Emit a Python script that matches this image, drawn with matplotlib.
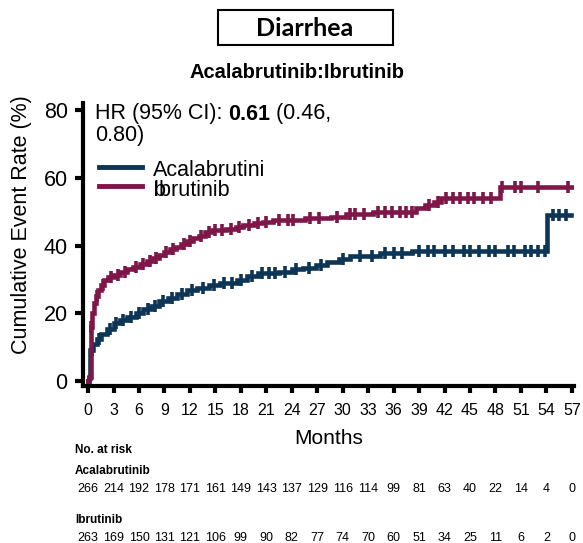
import numpy as np
import matplotlib
matplotlib.use('Agg')
import matplotlib.pyplot as plt
from matplotlib.patches import Rectangle

plt.rcParams['font.family'] = ['Liberation Sans', 'DejaVu Sans']

# Colours
BLUE = '#0d3556'
RED = '#7e1648'

# Kaplan-Meier style cumulative event curves (months, %)
acala_t = [0.0, 0.15, 0.25, 0.6, 1.0, 1.5, 2.2, 3.0, 3.8, 4.6, 5.6, 6.5, 7.4, 8.4,
           9.4, 10.5, 11.6, 12.8, 14.2, 15.6, 17.5, 18.7, 20.0, 22.5, 24.0, 25.3,
           26.8, 28.2, 29.6, 30.9, 34.4, 38.2, 54.1, 56.9]
acala_v = [0.0, 1.0, 9.0, 11.0, 12.5, 14.0, 15.5, 17.0, 18.0, 19.0, 20.0, 21.2, 22.3,
           23.5, 24.5, 25.7, 26.8, 27.5, 28.3, 29.0, 29.8, 31.0, 31.8, 32.3, 33.0,
           33.5, 34.3, 35.3, 36.2, 37.0, 37.8, 38.5, 49.0, 49.0]

ibru_t = [0.0, 0.15, 0.3, 0.5, 0.7, 0.9, 1.2, 1.5, 1.9, 2.4, 3.0, 3.8, 4.6, 5.3, 6.1,
          6.9, 7.6, 8.3, 8.9, 9.6, 10.3, 11.0, 11.7, 12.4, 13.1, 13.8, 14.6, 16.2,
          17.4, 18.3, 19.5, 20.6, 21.8, 25.5, 28.6, 30.4, 33.6, 38.6, 39.7, 40.8,
          41.6, 48.5, 57.4]
ibru_v = [0.0, 1.2, 16.0, 20.0, 23.0, 25.0, 27.0, 28.5, 29.8, 30.6, 31.4, 32.2, 33.0,
          33.8, 34.5, 35.5, 36.3, 37.2, 38.0, 38.9, 39.6, 40.4, 41.3, 42.2, 43.0,
          44.0, 44.5, 45.0, 45.6, 46.2, 46.7, 47.1, 47.6, 48.2, 48.6, 49.3, 50.0,
          51.0, 52.0, 53.0, 54.0, 57.5, 57.5]

# censor marks (months)
acala_cens = [0.5, 1.3, 2.6, 3.3, 4.1, 5.0, 6.0, 7.0, 7.9, 8.8, 9.9, 11.1, 12.2, 13.5,
              14.8, 16.0, 17.0, 18.0, 19.3, 20.5, 21.3, 22.0, 23.2, 24.5, 26.0, 27.5,
              30.0, 32.0, 33.5, 35.0, 36.0, 37.0, 39.0, 40.0, 40.8, 42.0, 43.0, 44.3,
              45.0, 46.0, 47.2, 48.0, 49.5, 50.2, 51.5, 52.2, 53.0, 53.8, 54.8, 55.5,
              56.3]
ibru_cens = [0.4, 1.0, 1.7, 2.7, 3.5, 4.3, 5.7, 6.5, 7.3, 8.0, 9.2, 10.0, 11.3, 12.0,
             13.3, 14.2, 15.0, 15.8, 16.8, 17.8, 19.0, 20.0, 21.0, 22.5, 23.5, 24.2,
             26.2, 27.2, 29.3, 30.8, 31.5, 32.5, 34.2, 35.0, 35.8, 36.8, 37.5, 38.2,
             40.2, 41.2, 42.2, 43.0, 43.8, 44.8, 45.5, 46.5, 47.5, 48.8, 50.3, 51.0,
             53.0, 56.5]

month_ticks = list(range(0, 58, 3))
risk_acala = [266, 214, 192, 178, 171, 161, 149, 143, 137, 129, 116, 114, 99, 81,
              63, 40, 22, 14, 4, 0]
risk_ibru = [263, 169, 150, 131, 121, 106, 99, 90, 82, 77, 74, 70, 60, 51, 34, 25,
             11, 6, 2, 0]


def censor_y(t, v, cens):
    idx = np.searchsorted(t, cens, side='right') - 1
    return np.asarray(v)[idx]


W, H = 583, 543
fig = plt.figure(figsize=(W / 100, H / 100), dpi=100)
ax = fig.add_axes([83 / W, 1 - 386 / H, 491 / W, 283 / H])

for t, v, cens, col in [(acala_t, acala_v, acala_cens, BLUE),
                        (ibru_t, ibru_v, ibru_cens, RED)]:
    ax.step(t, v, where='post', color=col, lw=3.3, solid_joinstyle='miter')
    ax.plot(cens, censor_y(t, v, cens), ls='none', marker='|', ms=8.5, mew=2.6,
            color=col)

ax.set_xlim(-0.6, 57.25)
ax.set_ylim(-1.5, 82.2)
ax.set_xticks(month_ticks)
ax.set_yticks([0, 20, 40, 60, 80])
ax.tick_params(axis='x', length=5, width=3, pad=7, labelsize=11.5)
ax.tick_params(axis='y', length=6, width=3, pad=5, labelsize=15.5)
for s in ['top', 'right']:
    ax.spines[s].set_visible(False)
for s in ['left', 'bottom']:
    ax.spines[s].set_linewidth(3)
ax.set_xlabel('Months', fontsize=15, labelpad=8)
fig.text(22 / W, 1 - 225 / H, 'Cumulative Event Rate (%)', rotation=90,
         ha='center', va='center', fontsize=15.5)

# HR annotation
t1 = fig.text(95 / W, 1 - 114 / H, 'HR (95% CI): ', fontsize=15.5, va='center')
t2 = ax.annotate('0.61', xy=(1, 0), xycoords=t1, va='bottom', ha='left',
                 fontsize=15.5, fontweight='bold')
ax.annotate(' (0.46,', xy=(1, 0), xycoords=t2, va='bottom', ha='left',
            fontsize=15.5)
fig.text(95 / W, 1 - 135 / H, '0.80)', fontsize=15.5, va='center')

# legend (label wraps in the original, leaving a stray "b")
for yl, yt, col, lab in [(167, 171, BLUE, 'Acalabrutini'), (186, 190, RED, 'Ibrutinib')]:
    fig.add_artist(plt.Line2D([99 / W, 142 / W], [1 - yl / H, 1 - yl / H],
                              color=col, lw=3.5))
    fig.text(153 / W, 1 - yt / H, lab, fontsize=15.5, va='center')
fig.text(154 / W, 1 - 190 / H, 'b', fontsize=15.5, va='center')

# titles
fig.add_artist(Rectangle((218 / W, 1 - 45 / H), 175 / W, 35 / H, transform=fig.transFigure,
                         fill=False, ec='black', lw=1.5))
fig.text(305 / W, 1 - 28 / H, 'Diarrhea', ha='center', va='center', fontsize=18,
         fontweight='bold', family=['Lato', 'DejaVu Sans'])
fig.text(297 / W, 1 - 72 / H, 'Acalabrutinib:Ibrutinib', ha='center', va='center',
         fontsize=14.5, fontweight='bold')

# number at risk table
trans = matplotlib.transforms.blended_transform_factory(ax.transData, fig.transFigure)
fig.text(75 / W, 1 - 450 / H, 'No. at risk', fontsize=8.5, fontweight='bold', va='center')
fig.text(75 / W, 1 - 471 / H, 'Acalabrutinib', fontsize=8.5, fontweight='bold', va='center')
fig.text(75 / W, 1 - 520 / H, 'Ibrutinib', fontsize=8.5, fontweight='bold', va='center')
for m, a, b in zip(month_ticks, risk_acala, risk_ibru):
    ax.text(m, 1 - 489 / H, str(a), transform=trans, ha='center', va='center', fontsize=9)
    ax.text(m, 1 - 538 / H, str(b), transform=trans, ha='center', va='center', fontsize=9)

fig.savefig('out.png', dpi=100)
